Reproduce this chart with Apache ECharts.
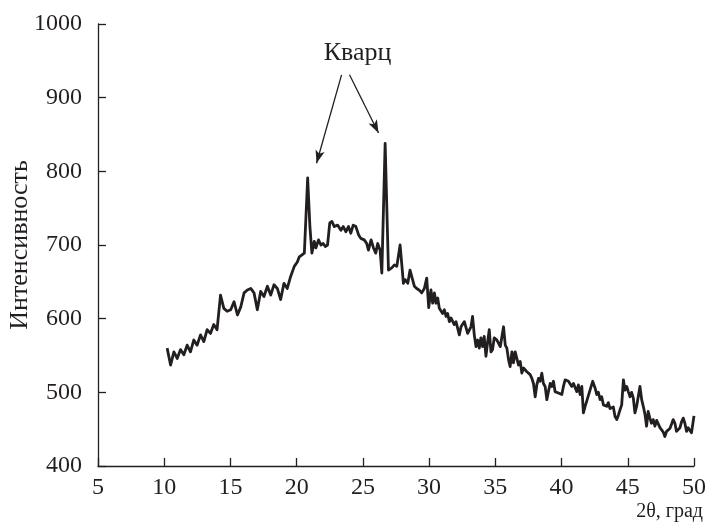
<!DOCTYPE html>
<html>
<head>
<meta charset="utf-8">
<script src="https://cdn.jsdelivr.net/npm/echarts@6/dist/echarts.min.js"></script>
<style>html,body{margin:0;padding:0;background:#fff}#c{width:709px;height:527px}</style>
</head>
<body>
<div id="c"></div>
<script>
const twoTheta = [10.22,10.48,10.73,10.98,11.23,11.48,11.73,11.98,12.23,12.48,12.74,12.99,13.24,13.49,13.74,13.99,14.25,14.50,14.75,15.02,15.27,15.53,15.78,16.03,16.28,16.53,16.78,17.03,17.28,17.53,17.79,18.04,18.29,18.54,18.79,19.04,19.29,19.54,19.82,20.05,20.20,20.58,20.83,21.00,21.15,21.33,21.45,21.65,21.83,22.00,22.16,22.33,22.50,22.66,22.84,23.09,23.34,23.52,23.71,23.91,24.09,24.27,24.47,24.67,24.84,25.10,25.29,25.42,25.62,25.80,25.97,26.12,26.30,26.43,26.68,26.93,27.18,27.38,27.56,27.81,27.93,28.06,28.19,28.39,28.56,28.69,28.89,29.06,29.24,29.44,29.64,29.82,29.97,30.14,30.27,30.40,30.52,30.65,30.77,31.02,31.15,31.28,31.40,31.53,31.65,31.90,32.03,32.28,32.41,32.66,32.91,33.16,33.28,33.41,33.54,33.66,33.79,33.91,34.04,34.16,34.29,34.41,34.54,34.67,34.79,34.92,35.12,35.37,35.62,35.75,35.87,36.00,36.12,36.25,36.37,36.50,36.75,36.88,37.00,37.13,37.38,37.63,37.76,37.88,38.01,38.13,38.26,38.38,38.51,38.63,38.76,38.89,39.01,39.14,39.26,39.39,39.51,39.76,40.02,40.14,40.27,40.52,40.77,40.90,41.15,41.27,41.40,41.53,41.65,41.78,41.90,42.03,42.15,42.35,42.53,42.66,42.78,42.91,43.03,43.16,43.28,43.41,43.53,43.66,43.78,43.91,44.04,44.17,44.29,44.41,44.54,44.67,44.79,44.92,45.04,45.17,45.29,45.42,45.54,45.67,45.92,46.05,46.17,46.30,46.42,46.54,46.67,46.79,46.92,47.05,47.18,47.30,47.43,47.55,47.68,47.80,47.93,48.06,48.18,48.31,48.43,48.56,48.68,48.81,48.94,49.06,49.19,49.31,49.44,49.56,49.69,49.81,50.00];
const intensity = [560,537,555,546,558,551,564,555,571,564,578,569,585,580,592,585,632,614,610,612,623,605,616,635,639,641,635,612,637,630,644,632,646,641,626,648,641,657,671,677,684,689,791,725,689,705,696,707,700,702,698,700,730,732,725,727,720,725,718,725,716,727,725,714,709,707,702,693,707,696,689,702,693,662,838,666,669,673,671,700,675,648,653,648,666,657,644,641,639,635,641,655,615,639,621,635,621,628,614,607,612,603,607,596,601,592,596,578,589,596,580,589,603,578,562,571,560,574,562,576,549,567,585,555,558,574,571,562,589,564,560,544,535,555,540,555,537,542,526,533,528,524,519,512,494,510,519,515,526,512,508,490,501,512,508,515,501,499,497,508,517,515,508,512,501,510,497,508,472,481,488,490,503,515,506,497,500,490,494,483,485,481,486,478,476,480,467,463,469,476,483,517,503,508,501,494,500,492,472,481,508,490,481,470,454,474,465,458,463,454,462,460,452,454,446,440,447,445,451,457,463,458,447,445,452,460,465,458,447,452,454,445,468];
const xTicks = [5,10,15,20,25,30,35,40,45,50];
const yTicks = [400,500,600,700,800,900,1000];
const annText = 'Кварц';
const annPos = [24.6, 960];
const arrows = [
  [[23.39, 931], [21.5, 811]],
  [[23.99, 931], [26.18, 852]]
];

const FONT = 'Liberation Serif';
const INK = '#231f20';
const seriesData = twoTheta.map((x, i) => [x, intensity[i]]);

const chart = echarts.init(document.getElementById('c'), null, {renderer: 'canvas'});
chart.setOption({
  animation: false,
  backgroundColor: '#fff',
  grid: {left: 98, right: 15, top: 24, bottom: 61, containLabel: false, outerBoundsMode: 'none'},
  xAxis: {
    type: 'value', min: xTicks[0], max: xTicks[xTicks.length - 1], interval: 5,
    name: '2θ, град', nameLocation: 'end', nameGap: 9, nameMoveOverlap: false,
    nameTextStyle: {fontFamily: FONT, fontSize: 20, color: INK, align: 'right', verticalAlign: 'top', padding: [36, 0, 0, 0]},
    axisLine: {lineStyle: {color: INK, width: 1.3}},
    axisTick: {inside: true, length: 8, lineStyle: {color: INK, width: 1.3}},
    axisLabel: {fontFamily: FONT, fontSize: 24, color: INK, margin: 10, formatter: v => String(v)},
    splitLine: {show: false}
  },
  yAxis: {
    type: 'value', min: yTicks[0], max: yTicks[yTicks.length - 1], interval: 100,
    name: 'Интенсивность', nameLocation: 'middle', nameGap: 65, nameRotate: 90, nameMoveOverlap: false,
    nameTextStyle: {fontFamily: FONT, fontSize: 26, color: INK},
    axisLine: {show: true, lineStyle: {color: INK, width: 1.3}},
    axisTick: {show: true, inside: true, length: 8, lineStyle: {color: INK, width: 1.3}},
    axisLabel: {fontFamily: FONT, fontSize: 24, color: INK, margin: 16, formatter: v => String(v)},
    splitLine: {show: false}
  },
  series: [{
    type: 'line', data: seriesData, showSymbol: false, symbol: 'none',
    lineStyle: {color: INK, width: 2.8, join: 'round'},
    markPoint: {
      symbol: 'circle', symbolSize: 0, silent: true,
      label: {show: true, formatter: annText, fontFamily: FONT, fontSize: 26, color: INK, position: 'inside'},
      data: [{coord: annPos}]
    },
    markLine: {
      silent: true, symbol: ['none', 'arrow'], symbolSize: [7, 13],
      lineStyle: {color: INK, width: 1.3, type: 'solid'},
      label: {show: false},
      data: arrows.map(a => [{coord: a[0]}, {coord: a[1]}])
    }
  }]
});
</script>
</body>
</html>
